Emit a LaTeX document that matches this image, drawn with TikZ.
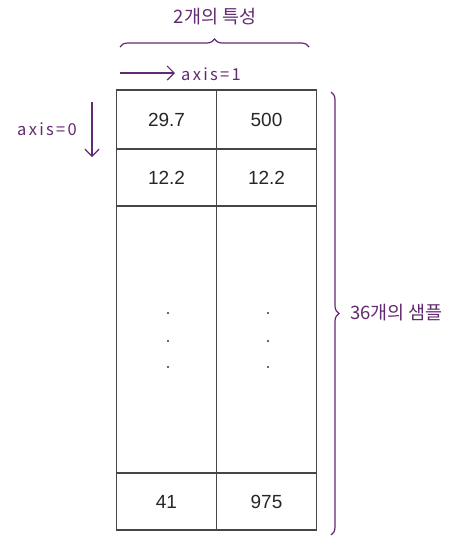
\documentclass[tikz,border=0pt]{standalone}
\usepackage{fontspec}
\setmainfont{Liberation Sans}
\newfontfamily\kfont{Noto Sans CJK KR}
\newfontfamily\kfontsp[LetterSpace=14]{Noto Sans CJK KR}
\usetikzlibrary{decorations.pathreplacing,arrows.meta}
\definecolor{anno}{RGB}{98,42,112}
\definecolor{grid}{RGB}{70,70,70}
\tikzset{
  cell/.style={draw=grid,line width=1.4pt,rectangle,inner sep=0pt,minimum width=100pt,font=\fontsize{19}{19}\selectfont,text=black!85},
  note/.style={text=anno,font=\kfont\fontsize{18.5}{18.5}\selectfont,inner sep=0pt},
  axnote/.style={text=anno,font=\kfontsp\fontsize{16.5}{16.5}\selectfont,inner sep=0pt},
  annobrace/.style={draw=anno,line width=1.2pt,decorate,decoration={brace,amplitude=8pt}},
  annoarrow/.style={draw=anno,line width=1.2pt,-{Straight Barb[length=7pt,width=14pt,line width=1.2pt]}},
  dotmark/.style={fill=black!80,circle,inner sep=0pt,minimum size=2.2pt}
}
\begin{document}
\begin{tikzpicture}[x=1pt,y=-1pt]
\useasboundingbox (0,0) rectangle (462,552);
% table cells
\node[cell,minimum height=59pt] (c11) at (166.5,119.5) {29.7};
\node[cell,minimum height=59pt] (c12) at (266.5,119.5) {500};
\node[cell,minimum height=57pt] (c21) at (166.5,177.5) {12.2};
\node[cell,minimum height=57pt] (c22) at (266.5,177.5) {12.2};
\node[cell,minimum height=267pt] (c31) at (166.5,339.5) {};
\node[cell,minimum height=267pt] (c32) at (266.5,339.5) {};
\node[cell,minimum height=57pt] (c41) at (166.5,501.5) {41};
\node[cell,minimum height=57pt] (c42) at (266.5,501.5) {975};
% dots
\foreach \yy in {313,341,367}{
  \node[dotmark] at (168,\yy) {};
  \node[dotmark] at (268,\yy) {};
}
% top brace and label
\coordinate (tb1) at (120,47);
\coordinate (tb2) at (309,47);
\draw[annobrace] (tb1) -- (tb2);
\node[note] (feat) at (215,17) {2개의 특성};
% axis=1 arrow
\coordinate (a1s) at (120,73);
\node[axnote,anchor=west] (ax1) at (181,74) {axis=1};
\draw[annoarrow,shorten >=6pt] (a1s) -- (ax1.west |- a1s);
% axis=0 arrow
\node[axnote,anchor=east] (ax0) at (77,129) {axis=0};
\coordinate (a0s) at (92,102);
\coordinate (a0e) at (92,157);
\draw[annoarrow] (a0s) -- (a0e);
% right brace and label
\coordinate (rb1) at (331,92);
\coordinate (rb2) at (331,535);
\draw[annobrace] (rb1) -- (rb2);
\node[note,anchor=west] (samp) at (350,313) {36개의 샘플};
\end{tikzpicture}
\end{document}
